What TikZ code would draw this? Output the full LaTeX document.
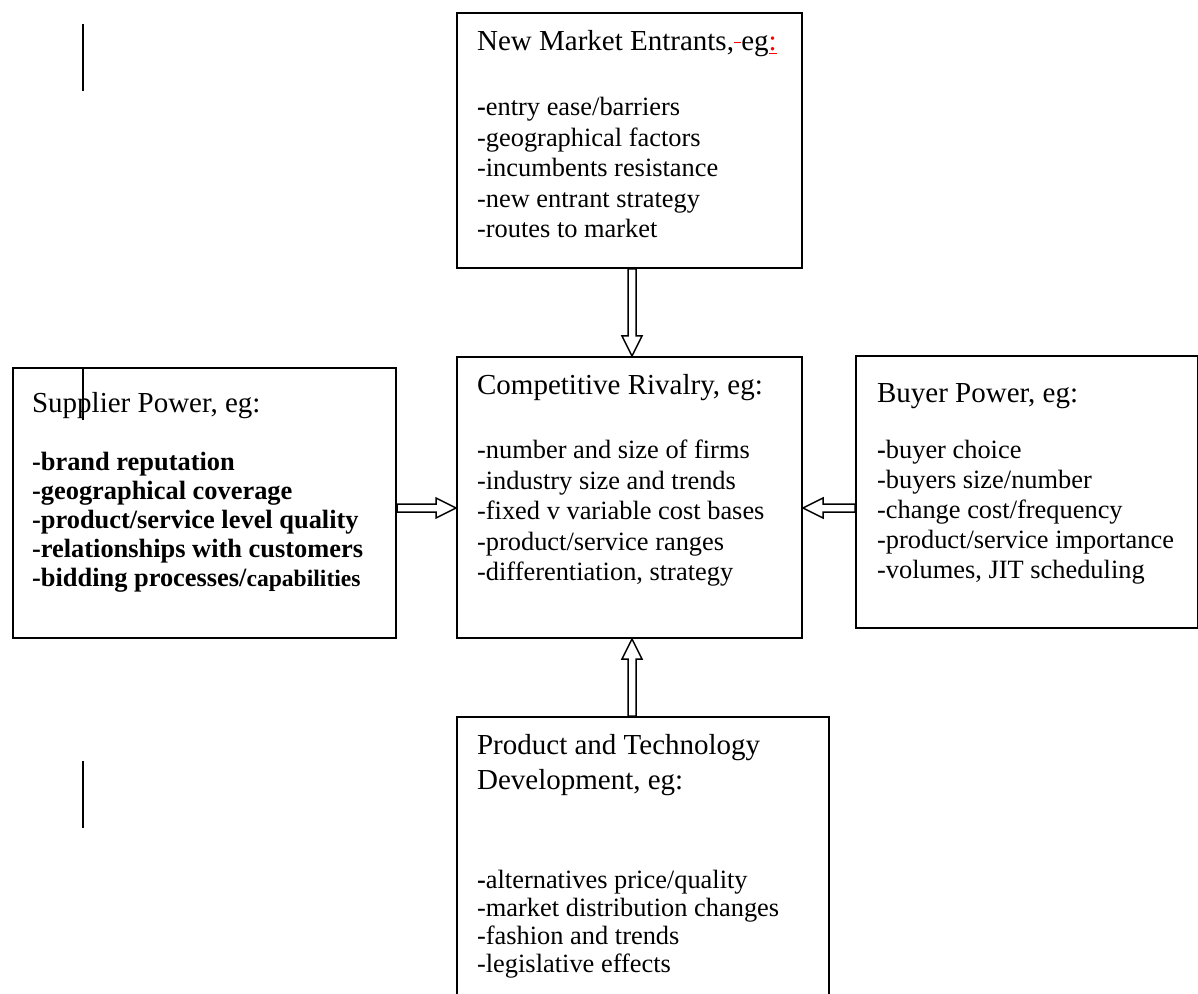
\documentclass[tikz,border=0pt]{standalone}
\usepackage{fontspec}
\setmainfont{Liberation Serif}
\usepackage{xcolor}
\usepackage{tikz}
\usetikzlibrary{positioning,calc}
\definecolor{trackred}{RGB}{255,0,0}
\newcommand{\titlesize}{\fontsize{14.5pt}{17.5pt}\selectfont}
\tikzset{
  forcebox/.style={draw, line width=1pt, anchor=north west, inner sep=0pt},
  forcetext/.style={align=left, inner sep=0pt, font=\fontsize{13.2pt}{#1}\selectfont},
  forcetext/.default=15.25pt,
  pusharrow/.style={draw, fill=white, line width=0.75pt,
    to path={let \p1=($(\tikztotarget)!10pt!(\tikztostart)$) in
      ($(\tikztostart)!2pt!90:(\tikztotarget)$) -- ($(\p1)!2pt!90:(\tikztotarget)$)
      -- ($(\p1)!5pt!90:(\tikztotarget)$) -- (\tikztotarget)
      -- ($(\p1)!5pt!-90:(\tikztotarget)$) -- ($(\p1)!2pt!-90:(\tikztotarget)$)
      -- ($(\tikztostart)!2pt!-90:(\tikztotarget)$) -- cycle}},
  strayline/.style={line width=1pt}
}
\begin{document}
\begin{tikzpicture}[x=0.5pt, y=-0.5pt]
\useasboundingbox (0,0) rectangle (1198,994);

\node[forcebox, minimum width=172.5pt, minimum height=127.5pt] (entrants) at (456,12) {};
\node[forcebox, minimum width=172.5pt, minimum height=140.5pt] (rivalry) at (456,356) {};
\node[forcebox, minimum width=191.5pt, minimum height=135pt] (supplier) at (12,367) {};
\node[forcebox, minimum width=171pt, minimum height=136pt] (buyer) at (855,355) {};
\node[forcebox, minimum width=186pt, minimum height=145pt] (technology) at (456,716) {};

\node[forcetext, below right=8.75pt and 10.35pt of entrants.north west] (entrantstext)
  {{\titlesize New Market Entrants,\textcolor{trackred}{\rule[0.23em]{0.25em}{0.05em}}eg\textcolor{trackred}{\underline{:}}}\\[17.5pt]
   \textbf{-}entry ease/barriers\\
   -geographical factors\\
   -incumbents resistance\\
   -new entrant strategy\\
   -routes to market};
\node[forcetext, below right=9pt and 10.35pt of rivalry.north west] (rivalrytext)
  {{\titlesize Competitive Rivalry, eg:}\\[16.75pt]
   -number and size of firms\\
   -industry size and trends\\
   -fixed v variable cost bases\\
   -product/service ranges\\
   -differentiation, strategy};
\node[forcetext=14.5pt, below right=12.5pt and 9.85pt of supplier.north west] (suppliertext)
  {{\titlesize Supplier Power, eg:}\\[14.5pt]
   \textbf{-brand reputation}\\
   \textbf{-geographical coverage}\\
   \textbf{-product/service level quality}\\
   \textbf{-relationships with customers}\\
   \textbf{-bidding processes/{\fontsize{11.8pt}{14.5pt}\selectfont capabilities}}};
\node[forcetext=15pt, below right=13.9pt and 10.85pt of buyer.north west] (buyertext)
  {{\titlesize Buyer Power, eg:}\\[13pt]
   \textbf{-}buyer choice\\
   -buyers size/number\\
   -change cost/frequency\\
   -product/service importance\\
   -volumes, JIT scheduling};
\node[forcetext=14pt, below right=9pt and 10.35pt of technology.north west] (technologytext)
  {{\titlesize Product and Technology}\\[3.5pt]
   {\titlesize Development, eg:}\\[35.5pt]
   \textbf{-}alternatives price/quality\\
   -market distribution changes\\
   -fashion and trends\\
   -legislative effects};

\draw[pusharrow] ([xshift=1.25pt]entrants.south) to ([xshift=1.25pt]rivalry.north);
\draw[pusharrow] ([yshift=-2.5pt]supplier.east) to ([yshift=-5.25pt]rivalry.west);
\draw[pusharrow] ([yshift=-8pt]buyer.west) to ([yshift=-5.25pt]rivalry.east);
\draw[pusharrow] ([xshift=-5.5pt]technology.north) to ([xshift=1.25pt]rivalry.south);

\draw[strayline] (83,24) -- (83,91);
\draw[strayline] (83,367) -- (83,420);
\draw[strayline] (83,761) -- (83,828);
\end{tikzpicture}
\end{document}
